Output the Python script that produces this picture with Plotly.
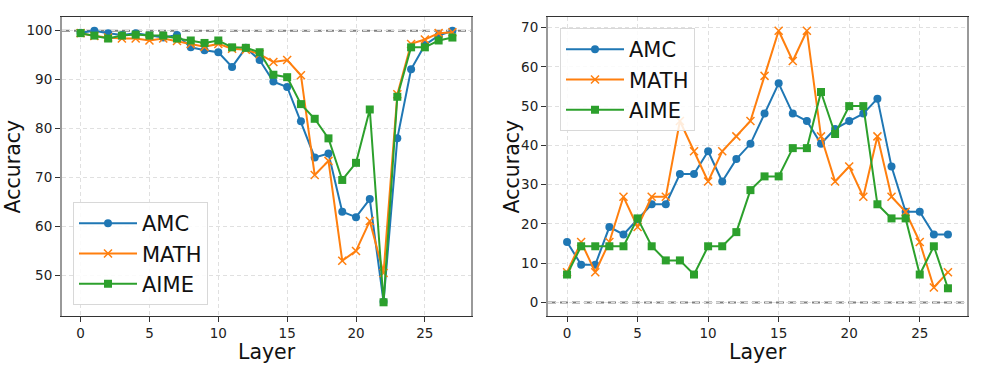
import plotly.graph_objects as go

layers = list(range(28))

# Left panel
amc_left = [99.6, 100.0, 99.5, 99.1, 99.5, 99.0, 98.6, 99.1, 96.6, 96.0, 95.6, 92.6, 96.5, 94.0,
            89.6, 88.5, 81.5, 74.1, 74.9, 63.0, 61.9, 65.6, 44.6, 78.0, 92.1, 97.1, 99.0, 100.0]
math_left = [99.5, 98.9, 98.6, 98.4, 98.4, 98.0, 98.4, 97.9, 97.3, 96.7, 97.3, 96.3, 96.1, 95.2,
             93.6, 94.0, 90.9, 70.5, 73.4, 53.0, 55.0, 61.1, 50.5, 87.0, 97.3, 98.2, 99.5, 99.7]
aime_left = [99.5, 99.0, 98.4, 99.0, 99.2, 99.0, 99.0, 98.4, 98.0, 97.5, 98.0, 96.6, 96.5, 95.6,
             91.0, 90.5, 85.0, 82.0, 78.0, 69.5, 73.0, 83.9, 44.5, 86.5, 96.6, 96.6, 98.0, 98.6]

# Right panel
amc_right = [15.4, 9.6, 9.6, 19.2, 17.3, 21.2, 25.0, 25.0, 32.7, 32.7, 38.5, 30.8, 36.5, 40.4,
             48.1, 55.8, 48.1, 46.2, 40.4, 44.2, 46.2, 48.1, 51.9, 34.6, 23.1, 23.1, 17.3, 17.3]
math_right = [7.7, 15.4, 7.7, 15.4, 26.9, 19.2, 26.9, 26.9, 46.2, 38.5, 30.8, 38.5, 42.3, 46.2,
              57.7, 69.2, 61.5, 69.2, 42.3, 30.8, 34.6, 26.9, 42.3, 26.9, 23.1, 15.4, 3.8, 7.7]
aime_right = [7.1, 14.3, 14.3, 14.3, 14.3, 21.4, 14.3, 10.7, 10.7, 7.1, 14.3, 14.3, 17.9, 28.6,
              32.1, 32.1, 39.3, 39.3, 53.6, 42.9, 50.0, 50.0, 25.0, 21.4, 21.4, 7.1, 14.3, 3.6]

series_names = ["AMC", "MATH", "AIME"]
colors = ["#1f77b4", "#ff7f0e", "#2ca02c"]
markers = [dict(symbol="circle", size=8),
           dict(symbol="x-thin", size=8, line=dict(width=1.5)),
           dict(symbol="square", size=8)]

fig = go.Figure()

left_data = [amc_left, math_left, aime_left]
right_data = [amc_right, math_right, aime_right]

for name, col, mk, ys in zip(series_names, colors, markers, left_data):
    m = dict(mk, color=col)
    if "line" in m:
        m["line"] = dict(m["line"], color=col)
    fig.add_trace(go.Scatter(x=layers, y=ys, name=name, mode="lines+markers",
                             line=dict(color=col, width=2), marker=m,
                             xaxis="x", yaxis="y", legend="legend"))

for name, col, mk, ys in zip(series_names, colors, markers, right_data):
    m = dict(mk, color=col)
    if "line" in m:
        m["line"] = dict(m["line"], color=col)
    fig.add_trace(go.Scatter(x=layers, y=ys, name=name, mode="lines+markers",
                             line=dict(color=col, width=2), marker=m,
                             xaxis="x2", yaxis="y2", legend="legend2"))

W, H = 984, 375
ax_common = dict(showline=True, mirror=True, ticks="outside", ticklen=5, tickcolor="#333",
                 showgrid=True, gridcolor="#e0e0e0", griddash="4px,3px", gridwidth=1,
                 zeroline=False, automargin=False,
                 tickfont=dict(family="DejaVu Sans", size=13.5, color="#222"))

xdom1 = [62 / W, 471 / W]
xdom2 = [548 / W, 967 / W]
ydom = [1 - 316 / H, 1 - 17 / H]

legend_common = dict(bgcolor="rgba(255,255,255,0.85)", bordercolor="#d8d8d8", borderwidth=1,
                     tracegroupgap=0, itemwidth=58,
                     font=dict(family="DejaVu Sans", size=21, color="#111"))

fig.update_layout(
    width=W, height=H,
    margin=dict(l=0, r=0, t=0, b=0, autoexpand=False),
    paper_bgcolor="white", plot_bgcolor="white",
    font=dict(family="DejaVu Sans", color="#222"),
    xaxis=dict(ax_common, domain=xdom1, range=[-1.35, 28.35], tickvals=[0, 5, 10, 15, 20, 25],
               linecolor="#333", linewidth=1, anchor="y"),
    yaxis=dict(ax_common, domain=ydom, range=[41.7, 102.8], tickvals=[50, 60, 70, 80, 90, 100],
               linecolor="#999", linewidth=2, anchor="x"),
    xaxis2=dict(ax_common, domain=xdom2, range=[-1.35, 28.35], tickvals=[0, 5, 10, 15, 20, 25],
                linecolor="#333", linewidth=1, anchor="y2"),
    yaxis2=dict(ax_common, domain=ydom, range=[-3.46, 72.7], tickvals=[0, 10, 20, 30, 40, 50, 60, 70],
                linecolor="#999", linewidth=2, anchor="x2"),
    legend=dict(legend_common, x=73 / W, y=1 - 305 / H, xanchor="left", yanchor="bottom"),
    legend2=dict(legend_common, x=560 / W, y=1 - 28 / H, xanchor="left", yanchor="top"),
    shapes=[
        dict(type="line", xref="x domain", yref="y", x0=0, x1=1, y0=100, y1=100,
             line=dict(color="#808080", width=2, dash="8px,4px"), layer="below"),
        dict(type="line", xref="x2 domain", yref="y2", x0=0, x1=1, y0=0, y1=0,
             line=dict(color="#808080", width=2, dash="8px,4px"), layer="below"),
    ],
    annotations=[
        dict(text="Layer", xref="paper", yref="paper", x=(62 + 471) / 2 / W, y=1 - 352 / H,
             showarrow=False, font=dict(size=20.5, family="DejaVu Sans", color="#111"),
             xanchor="center", yanchor="middle"),
        dict(text="Layer", xref="paper", yref="paper", x=(548 + 967) / 2 / W, y=1 - 352 / H,
             showarrow=False, font=dict(size=20.5, family="DejaVu Sans", color="#111"),
             xanchor="center", yanchor="middle"),
        dict(text="Accuracy", xref="paper", yref="paper", x=13 / W, y=1 - 166.5 / H,
             showarrow=False, textangle=-90, font=dict(size=20.5, family="DejaVu Sans", color="#111"),
             xanchor="center", yanchor="middle"),
        dict(text="Accuracy", xref="paper", yref="paper", x=512 / W, y=1 - 166.5 / H,
             showarrow=False, textangle=-90, font=dict(size=20.5, family="DejaVu Sans", color="#111"),
             xanchor="center", yanchor="middle"),
    ],
)

fig.write_html("out.html", config={"displayModeBar": False},
               post_script="document.body.style.margin='0';document.body.style.overflow='hidden';")
